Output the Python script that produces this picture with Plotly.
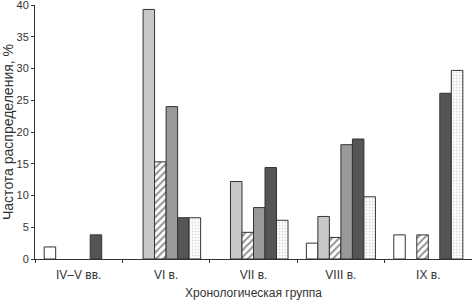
import plotly.graph_objects as go

categories = ["IV–V вв.", "VI в.", "VII в.", "VIII в.", "IX в."]
s_white = [1.9, None, None, 2.5, 3.8]
s_light = [None, 39.3, 12.2, 6.7, None]
s_hatch = [None, 15.3, 4.2, 3.4, 3.8]
s_mid = [None, 24.0, 8.1, 18.0, None]
s_dark = [3.8, 6.5, 14.4, 18.9, 26.1]
s_dot = [None, 6.5, 6.1, 9.8, 29.7]
y_ticks = [0, 5, 10, 15, 20, 25, 30, 35, 40]

line = dict(color="#333333", width=1)
fig = go.Figure()
fig.add_bar(x=categories, y=s_white, marker=dict(color="white", line=line))
fig.add_bar(x=categories, y=s_light, marker=dict(color="#c8c8c8", line=line))
fig.add_bar(x=categories, y=s_hatch, marker=dict(color="white", line=line,
            pattern=dict(shape="/", fgcolor="#222222", size=5, solidity=0.4)))
fig.add_bar(x=categories, y=s_mid, marker=dict(color="#999999", line=line))
fig.add_bar(x=categories, y=s_dark, marker=dict(color="#555555", line=line))
fig.add_bar(x=categories, y=s_dot, marker=dict(color="white", line=line,
            pattern=dict(shape=".", fgcolor="#b8b8b8", size=3, solidity=0.3)))

fig.update_layout(
    width=472, height=301,
    margin=dict(l=35, r=0, t=5, b=42, autoexpand=False),
    paper_bgcolor="white", plot_bgcolor="white",
    showlegend=False, barmode="group", bargap=0.21, bargroupgap=0,
    font=dict(family="Liberation Sans, Arial", size=11, color="#333333"),
    xaxis=dict(type="category", range=[-0.5, 4.5], showline=True, linecolor="#333333",
               linewidth=1, ticks="outside", tickson="boundaries", ticklen=3,
               tickcolor="#333333", showgrid=False, automargin=False,
               ticklabelstandoff=5, tickfont=dict(size=12),
               title=dict(text="Хронологическая группа", standoff=7, font=dict(size=12))),
    yaxis=dict(range=[0, 40], tickmode="array", tickvals=y_ticks, showline=True,
               linecolor="#333333", linewidth=1, automargin=False,
               ticklabeloverflow="allow",
               ticks="outside", ticklen=3, tickcolor="#333333", showgrid=False,
               zeroline=False,
               title=dict(text="Частота распределения, %", standoff=2, font=dict(size=14))),
)
fig.write_html("out.html", config={"displayModeBar": False},
               post_script="document.body.style.margin='0';")
